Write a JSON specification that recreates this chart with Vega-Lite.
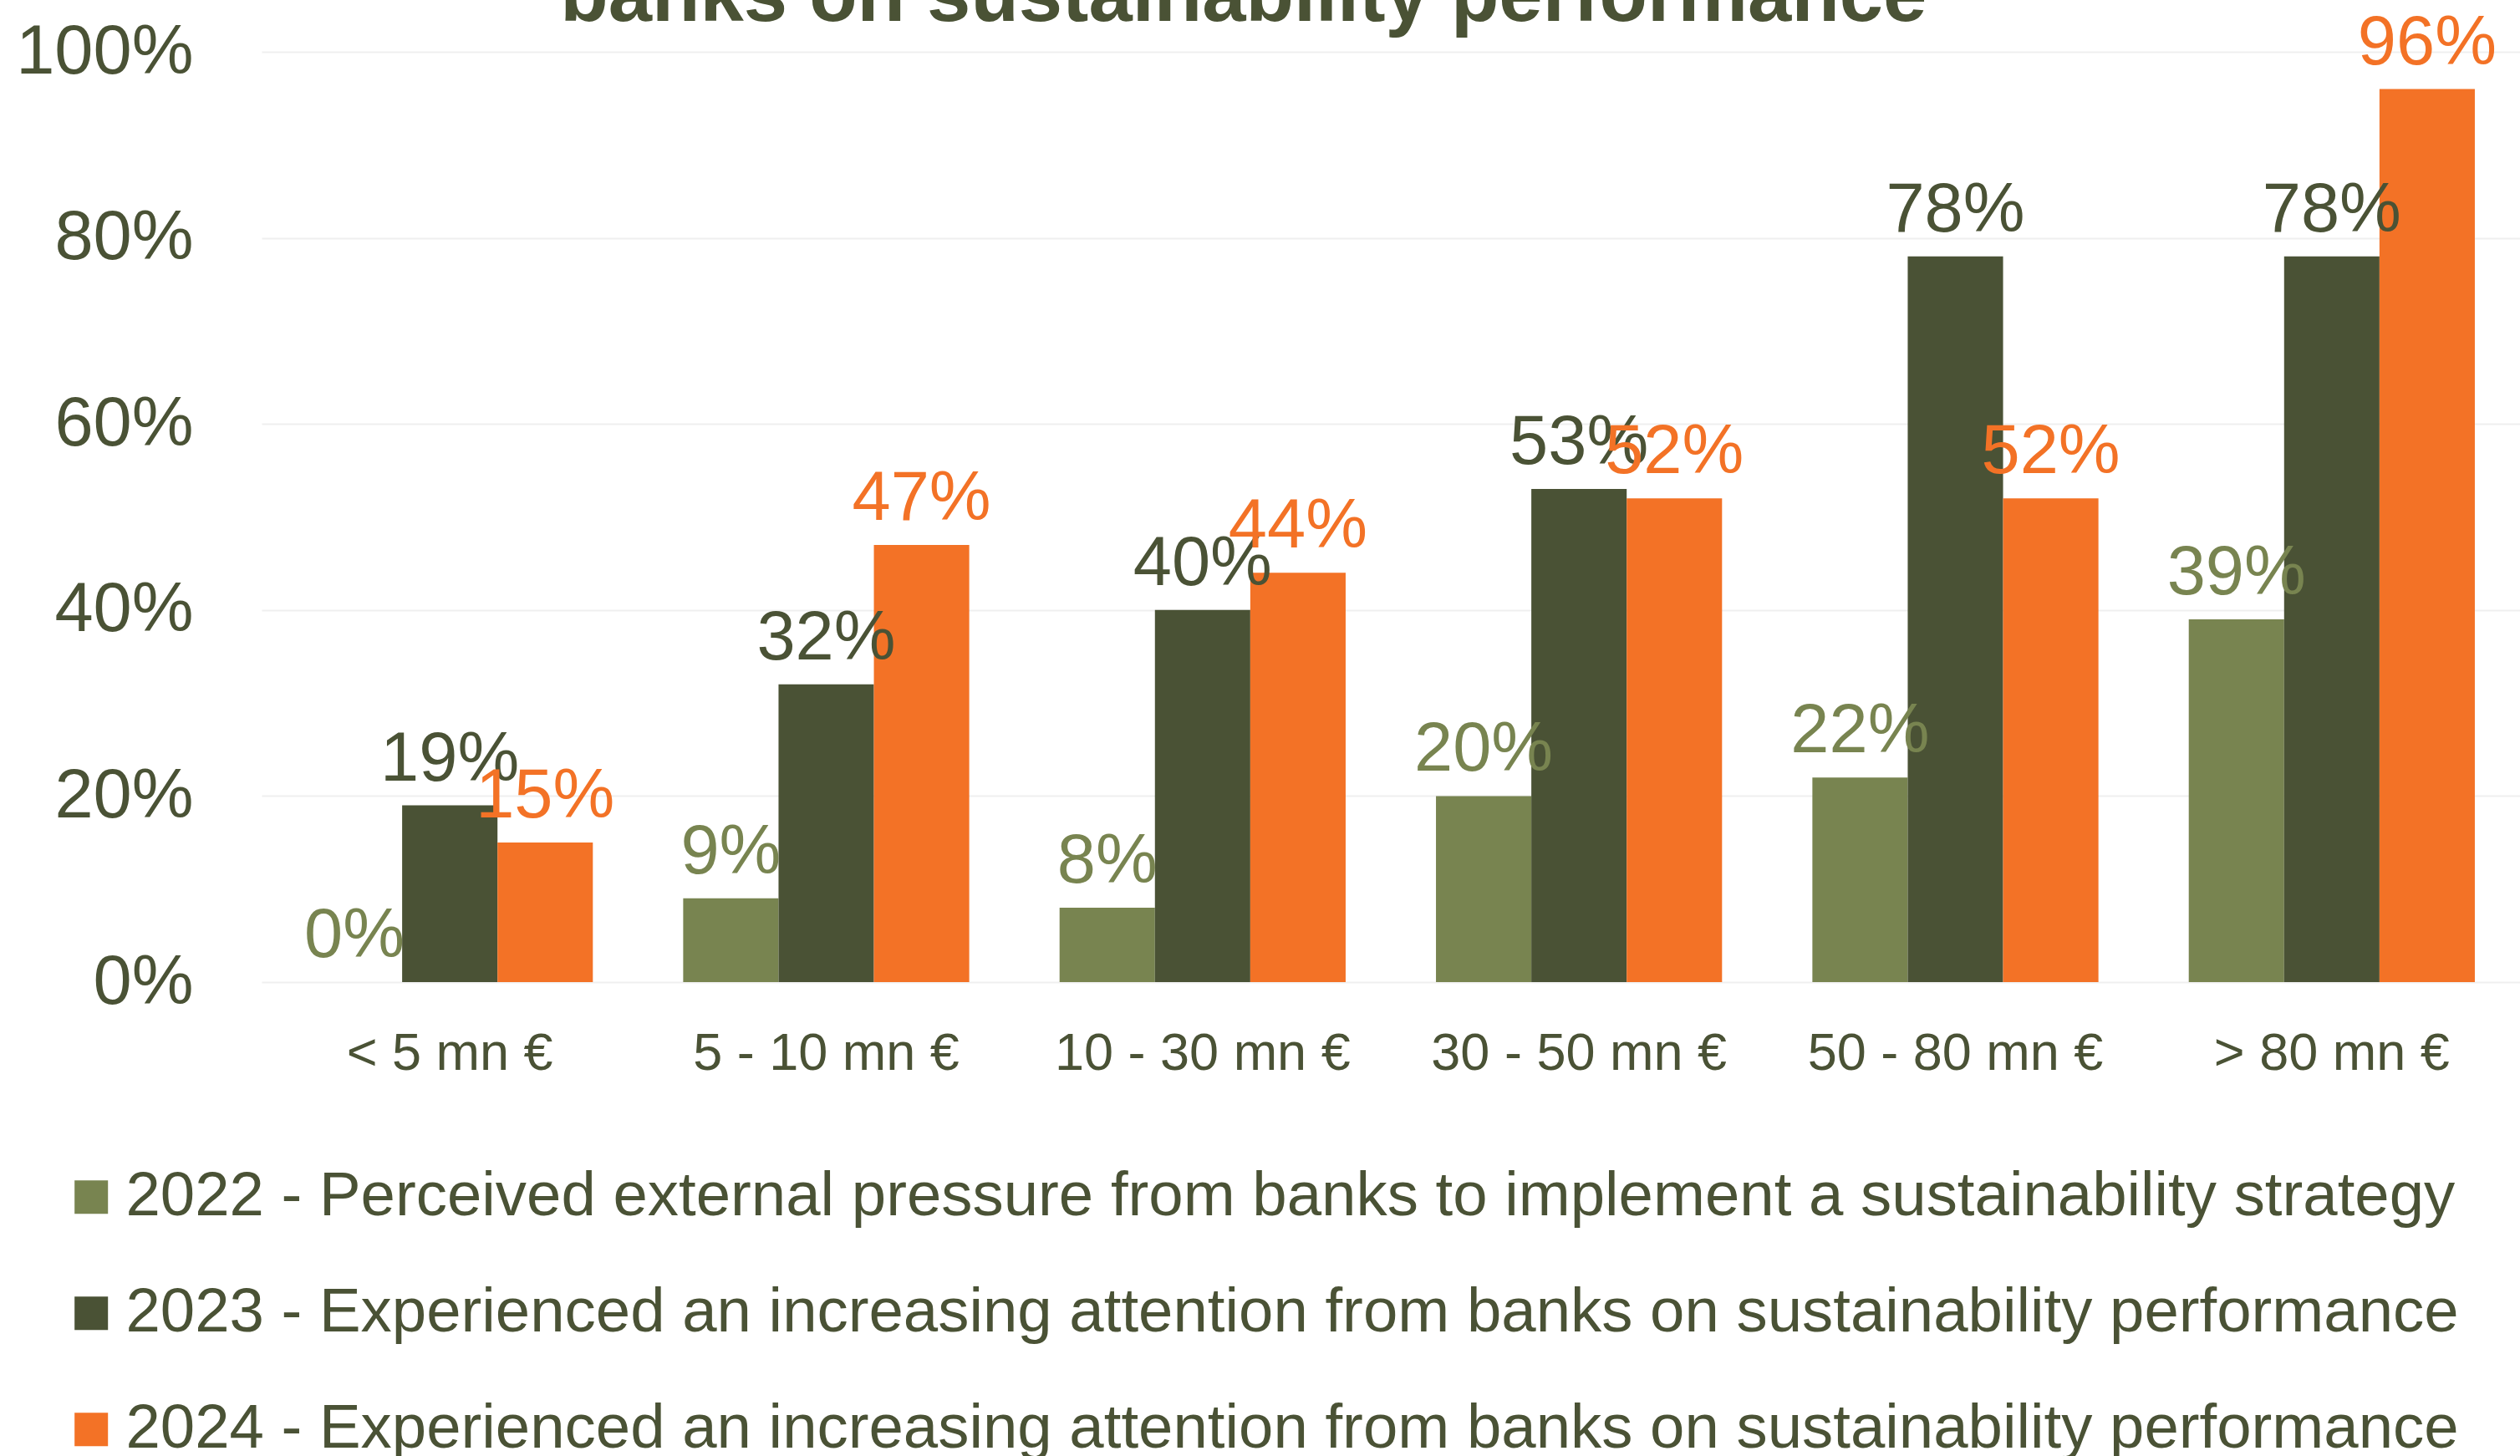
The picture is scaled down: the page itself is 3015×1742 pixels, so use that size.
{
  "$schema": "https://vega.github.io/schema/vega-lite/v6.json",
  "autosize": "none",
  "width": 2702,
  "height": 1113,
  "padding": {"left": 313, "top": 62, "right": 0, "bottom": 567},
  "background": "white",
  "config": {
    "font": "Liberation Sans",
    "view": {"stroke": null}
  },
  "title": {
    "text": "banks on sustainability performance",
    "fontSize": 94,
    "fontWeight": "bold",
    "color": "#4A5235",
    "anchor": "middle",
    "frame": "bounds",
    "baseline": "alphabetic",
    "offset": 0,
    "dy": 108,
    "dx": -29
  },
  "data": {
    "values": [
      {"size": "< 5 mn €", "series": "2022 - Perceived external pressure from banks to implement a sustainability strategy", "value": 0},
      {"size": "< 5 mn €", "series": "2023 - Experienced an increasing attention from banks on sustainability performance", "value": 0.19},
      {"size": "< 5 mn €", "series": "2024 - Experienced an increasing attention from banks on sustainability performance", "value": 0.15},
      {"size": "5 - 10 mn €", "series": "2022 - Perceived external pressure from banks to implement a sustainability strategy", "value": 0.09},
      {"size": "5 - 10 mn €", "series": "2023 - Experienced an increasing attention from banks on sustainability performance", "value": 0.32},
      {"size": "5 - 10 mn €", "series": "2024 - Experienced an increasing attention from banks on sustainability performance", "value": 0.47},
      {"size": "10 - 30 mn €", "series": "2022 - Perceived external pressure from banks to implement a sustainability strategy", "value": 0.08},
      {"size": "10 - 30 mn €", "series": "2023 - Experienced an increasing attention from banks on sustainability performance", "value": 0.40},
      {"size": "10 - 30 mn €", "series": "2024 - Experienced an increasing attention from banks on sustainability performance", "value": 0.44},
      {"size": "30 - 50 mn €", "series": "2022 - Perceived external pressure from banks to implement a sustainability strategy", "value": 0.20},
      {"size": "30 - 50 mn €", "series": "2023 - Experienced an increasing attention from banks on sustainability performance", "value": 0.53},
      {"size": "30 - 50 mn €", "series": "2024 - Experienced an increasing attention from banks on sustainability performance", "value": 0.52},
      {"size": "50 - 80 mn €", "series": "2022 - Perceived external pressure from banks to implement a sustainability strategy", "value": 0.22},
      {"size": "50 - 80 mn €", "series": "2023 - Experienced an increasing attention from banks on sustainability performance", "value": 0.78},
      {"size": "50 - 80 mn €", "series": "2024 - Experienced an increasing attention from banks on sustainability performance", "value": 0.52},
      {"size": "> 80 mn €", "series": "2022 - Perceived external pressure from banks to implement a sustainability strategy", "value": 0.39},
      {"size": "> 80 mn €", "series": "2023 - Experienced an increasing attention from banks on sustainability performance", "value": 0.78},
      {"size": "> 80 mn €", "series": "2024 - Experienced an increasing attention from banks on sustainability performance", "value": 0.96}
    ]
  },
  "encoding": {
    "x": {
      "field": "size",
      "type": "nominal",
      "sort": ["< 5 mn €", "5 - 10 mn €", "10 - 30 mn €", "30 - 50 mn €", "50 - 80 mn €", "> 80 mn €"],
      "scale": {"paddingInner": 0.24, "paddingOuter": 0.12},
      "axis": {
        "title": null,
        "labelAngle": 0,
        "labelFontSize": 63,
        "labelColor": "#4A5235",
        "labelPadding": 54,
        "labelLimit": 1000,
        "ticks": false,
        "domain": false,
        "grid": false
      }
    },
    "xOffset": {
      "field": "series",
      "type": "nominal",
      "sort": [
        "2022 - Perceived external pressure from banks to implement a sustainability strategy",
        "2023 - Experienced an increasing attention from banks on sustainability performance",
        "2024 - Experienced an increasing attention from banks on sustainability performance"
      ]
    },
    "y": {
      "field": "value",
      "type": "quantitative",
      "scale": {"domain": [0, 1], "nice": false},
      "axis": {
        "title": null,
        "format": ".0%",
        "values": [0, 0.2, 0.4, 0.6, 0.8, 1],
        "labelFontSize": 83,
        "labelColor": "#4A5235",
        "labelPadding": 82,
        "labelLimit": 1000,
        "ticks": false,
        "domain": false,
        "gridColor": "#EFEFEF",
        "gridWidth": 2
      }
    },
    "color": {
      "field": "series",
      "type": "nominal",
      "sort": [
        "2022 - Perceived external pressure from banks to implement a sustainability strategy",
        "2023 - Experienced an increasing attention from banks on sustainability performance",
        "2024 - Experienced an increasing attention from banks on sustainability performance"
      ],
      "scale": {"range": ["#788450", "#4A5235", "#F37226"]}
    }
  },
  "layer": [
    {
      "mark": {"type": "bar"},
      "encoding": {
        "color": {
          "field": "series",
          "type": "nominal",
          "sort": [
            "2022 - Perceived external pressure from banks to implement a sustainability strategy",
            "2023 - Experienced an increasing attention from banks on sustainability performance",
            "2024 - Experienced an increasing attention from banks on sustainability performance"
          ],
          "scale": {"range": ["#788450", "#4A5235", "#F37226"]},
          "legend": {
            "title": null,
            "orient": "none",
            "legendX": -241,
            "legendY": 1333,
            "direction": "vertical",
            "padding": 0,
            "symbolType": "square",
            "symbolSize": 1600,
            "symbolStrokeWidth": 0,
            "labelFontSize": 74.4,
            "labelColor": "#4A5235",
            "labelLimit": 3000,
            "labelOffset": 4,
            "rowPadding": 64
          }
        }
      }
    },
    {
      "mark": {"type": "text", "baseline": "alphabetic", "dy": -30, "fontSize": 83},
      "encoding": {
        "text": {"field": "value", "type": "quantitative", "format": ".0%"},
        "color": {
          "field": "series",
          "type": "nominal",
          "sort": [
            "2022 - Perceived external pressure from banks to implement a sustainability strategy",
            "2023 - Experienced an increasing attention from banks on sustainability performance",
            "2024 - Experienced an increasing attention from banks on sustainability performance"
          ],
          "scale": {"range": ["#788450", "#4A5235", "#F37226"]},
          "legend": null
        }
      }
    }
  ]
}
